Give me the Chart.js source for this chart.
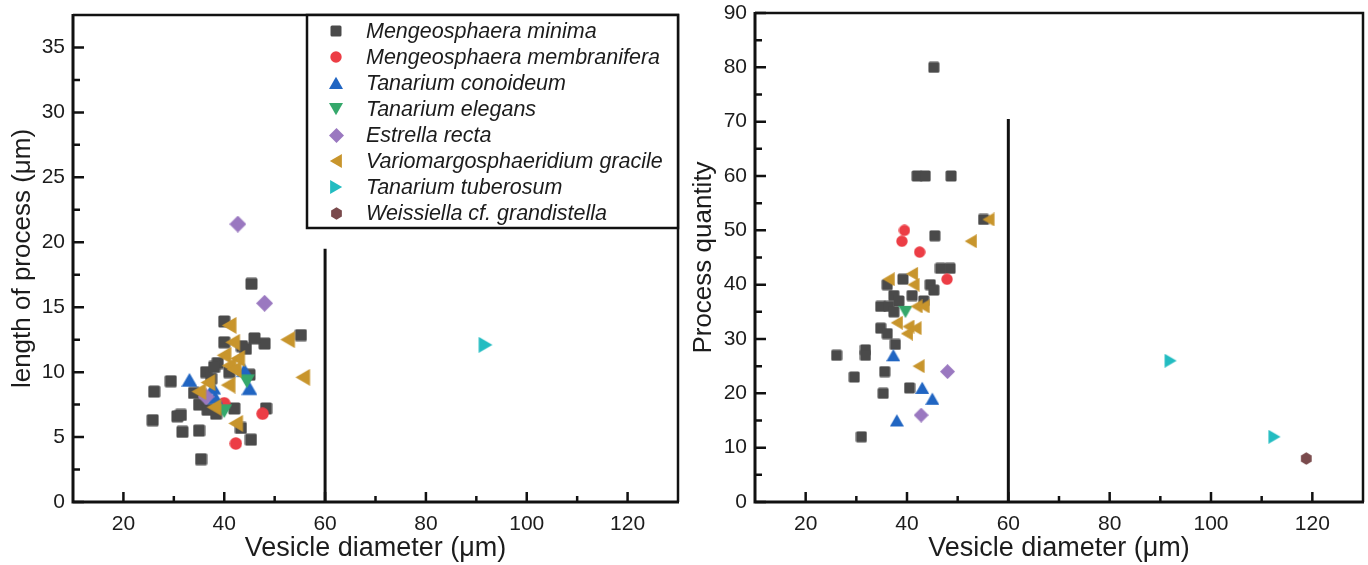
<!DOCTYPE html>
<html>
<head>
<meta charset="utf-8">
<script src="https://cdn.jsdelivr.net/npm/chart.js@4.4.0/dist/chart.umd.min.js"></script>
<style>
  html, body { margin: 0; padding: 0; background: #fff; }
  #wrap { position: relative; width: 1368px; height: 565px; }
  canvas { position: absolute; top: 0; }
</style>
</head>
<body>
<div id="wrap">
  <canvas id="lenChart" width="684" height="565" style="left:0"></canvas>
  <canvas id="qtyChart" width="684" height="565" style="left:684px"></canvas>
</div>
<script>
// species in legend order
const seriesNames = [
  'Mengeosphaera minima',
  'Mengeosphaera membranifera',
  'Tanarium conoideum',
  'Tanarium elegans',
  'Estrella recta',
  'Variomargosphaeridium gracile',
  'Tanarium tuberosum',
  'Weissiella cf. grandistella'
];

// left panel: [vesicle diameter, length of process]
const minimaLen = [[45.4,16.8],[55.2,12.85],[48.0,12.2],[46.0,12.6],[44.3,11.8],[40.0,13.9],[40.0,12.3],
  [26.1,8.5],[29.4,9.3],[25.8,6.3],[30.7,6.6],[31.4,6.7],[31.7,5.4],[35.0,5.5],[35.4,3.3],[45.3,4.8],
  [48.3,7.2],[42.0,7.2],[43.3,5.7],[45.0,9.8],[36.4,10.0],[38.7,10.7],[34.0,8.4],[35.0,7.5],[36.7,7.1],
  [38.4,6.8],[38.0,10.4],[43.5,12.0],[37.4,9.5],[41.0,10.0]];
const membraniferaLen = [[47.6,6.8],[42.3,4.5],[40.0,7.6]];
const conoideumLen = [[33.1,9.4],[44.0,10.15],[45.0,8.75],[37.8,8.8],[38.2,8.05]];
const elegansLen = [[44.5,9.3],[40.0,7.0]];
const rectaLen = [[42.7,21.4],[48.0,15.3],[36.4,8.1]];
const gracileLen = [[41.0,13.6],[41.7,12.3],[40.0,11.3],[42.7,11.05],[41.0,10.5],[42.0,10.2],[40.8,9.0],
  [36.8,9.2],[35.0,8.5],[38.0,7.3],[42.3,6.05],[52.6,12.5],[55.6,9.6]];
const tuberosumLen = [[91.8,12.1]];
const grandistellaLen = [];

// right panel: [vesicle diameter, process quantity]
const minimaQty = [[45.3,80],[42.0,60],[43.6,60],[48.7,60],[55.1,52],[45.5,49],[46.6,43],[48.5,43],
  [39.2,41],[36.1,40],[44.6,40],[45.3,39],[37.4,38],[41.0,38],[43.3,37],[34.8,36],[36.4,36],[37.4,35],
  [38.4,37],[34.8,32],[36.1,31],[37.7,29],[31.8,28],[31.8,27],[26.1,27],[35.6,24],[29.6,23],[40.5,21],
  [35.3,20],[31.0,12]];
const membraniferaQty = [[39.5,50],[39.0,48],[42.5,46],[47.9,41]];
const conoideumQty = [[37.3,27],[43.0,21],[45.0,19],[38.0,15]];
const elegansQty = [[39.7,35]];
const rectaQty = [[48.0,24],[42.8,16]];
const gracileQty = [[56.1,52],[52.6,48],[36.4,41],[41.0,42],[41.3,40],[41.9,36],[43.3,36],[38.0,33],
  [40.3,32.3],[41.7,32],[40.0,31],[42.3,25]];
const tuberosumQty = [[92.0,26],[112.5,12]];
const grandistellaQty = [[118.8,8]];

// axes
const xTicks = [20, 40, 60, 80, 100, 120];
const lenTicks = [0, 5, 10, 15, 20, 25, 30, 35];
const qtyTicks = [0, 10, 20, 30, 40, 50, 60, 70, 80, 90];
const cutDiameter = 60;
const lenCutTop = 19.5;
const qtyCutTop = 70.5;

const FONT = "'Liberation Sans', Arial, Helvetica, sans-serif";
const INK = '#1c1c1c';
const colors = ['#4a4a4a', '#ec3d45', '#2065c2', '#35a86b', '#9a78c0', '#c8952c', '#22bcc1', '#7a4a4c'];
const shapes = ['square', 'circle', 'up', 'down', 'diamond', 'left', 'right', 'hexagon'];
const lenSize = { square: 13, circle: 13, up: 16, down: 16, diamond: 17, left: 17, right: 16, hexagon: 13 };
const qtySize = { square: 12, circle: 12, up: 14, down: 14, diamond: 15, left: 14, right: 14, hexagon: 13 };

function makeSprite(shape, color, size) {
  const c = document.createElement('canvas');
  c.width = size; c.height = size;
  const g = c.getContext('2d');
  const s = size, h = s / 2;
  g.fillStyle = color;
  g.beginPath();
  if (shape === 'square') {
    g.roundRect(0.5, 0.5, s - 1, s - 1, 1.5);
  } else if (shape === 'circle') {
    g.arc(h, h, h - 0.3, 0, Math.PI * 2);
  } else if (shape === 'up') {
    g.moveTo(h, 0.06 * s); g.lineTo(s, 0.92 * s); g.lineTo(0, 0.92 * s);
  } else if (shape === 'down') {
    g.moveTo(h, 0.94 * s); g.lineTo(s, 0.08 * s); g.lineTo(0, 0.08 * s);
  } else if (shape === 'left') {
    g.moveTo(0.06 * s, h); g.lineTo(0.92 * s, 0); g.lineTo(0.92 * s, s);
  } else if (shape === 'right') {
    g.moveTo(0.94 * s, h); g.lineTo(0.08 * s, 0); g.lineTo(0.08 * s, s);
  } else if (shape === 'diamond') {
    g.moveTo(h, 0); g.lineTo(s, h); g.lineTo(h, s); g.lineTo(0, h);
  } else if (shape === 'hexagon') {
    for (let k = 0; k < 6; k++) {
      const a = -Math.PI / 2 + k * Math.PI / 3;
      const px = h + (h - 0.3) * Math.cos(a), py = h + (h - 0.3) * Math.sin(a);
      if (k === 0) g.moveTo(px, py); else g.lineTo(px, py);
    }
  }
  g.closePath();
  g.fill();
  return c;
}

const legendSprites = shapes.map((sh, i) => makeSprite(sh, colors[i], qtySize[sh]));

function minorValues(ticks, min, max) {
  const out = [];
  const step = ticks[1] - ticks[0];
  for (let v = ticks[0] - step / 2; v < max; v += step) {
    if (v > min && v < max) out.push(v);
  }
  return out;
}

function framePlugin(cutTop) {
  return {
    id: 'frame',
    afterDatasetsDraw(chart) {
      const { ctx, chartArea: a, scales: { x, y } } = chart;
      ctx.save();
      ctx.strokeStyle = '#111';
      ctx.lineCap = 'butt';
      ctx.lineWidth = 2.5;
      ctx.beginPath();
      x.ticks.forEach(t => { const px = x.getPixelForValue(t.value); ctx.moveTo(px, a.bottom); ctx.lineTo(px, a.bottom - 10); });
      minorValues(x.ticks.map(t => t.value), x.min, x.max).forEach(v => { const px = x.getPixelForValue(v); ctx.moveTo(px, a.bottom); ctx.lineTo(px, a.bottom - 6); });
      y.ticks.forEach(t => { const py = y.getPixelForValue(t.value); ctx.moveTo(a.left, py); ctx.lineTo(a.left + 11, py); });
      minorValues(y.ticks.map(t => t.value), y.min, y.max).forEach(v => { const py = y.getPixelForValue(v); ctx.moveTo(a.left, py); ctx.lineTo(a.left + 7, py); });
      ctx.stroke();
      // frame
      ctx.lineWidth = 2.5;
      ctx.beginPath();
      ctx.moveTo(a.left, a.top); ctx.lineTo(a.right, a.top); ctx.lineTo(a.right, a.bottom);
      ctx.stroke();
      ctx.lineWidth = 3;
      ctx.beginPath();
      ctx.moveTo(a.left, a.top - 1); ctx.lineTo(a.left, a.bottom); ctx.lineTo(a.right + 1, a.bottom);
      ctx.stroke();
      // divider at 60 µm
      const cx = x.getPixelForValue(cutDiameter);
      ctx.lineWidth = 3;
      ctx.beginPath();
      ctx.moveTo(cx, a.bottom); ctx.lineTo(cx, y.getPixelForValue(cutTop));
      ctx.stroke();
      ctx.restore();
    }
  };
}

const legendBox = {
  id: 'legendBox',
  afterDraw(chart) {
    const { ctx, chartArea: a } = chart;
    const x0 = a.right - 371, y0 = a.top, y1 = 228;
    ctx.save();
    ctx.fillStyle = '#fff';
    ctx.fillRect(x0, y0, a.right - x0, y1 - y0);
    ctx.strokeStyle = '#111';
    ctx.lineWidth = 2.5;
    ctx.strokeRect(x0, y0, a.right - x0, y1 - y0);
    ctx.font = 'italic 21.5px ' + FONT;
    ctx.textBaseline = 'middle';
    ctx.fillStyle = INK;
    chart.data.datasets.forEach((ds, i) => {
      const yy = y0 + 15.7 + i * 26.1;
      const img = legendSprites[i];
      ctx.drawImage(img, Math.round(x0 + 29 - img.width / 2), Math.round(yy - img.height / 2));
      ctx.fillText(ds.label, x0 + 59, yy + 1);
    });
    ctx.restore();
  }
};

function buildDatasets(groups, sizes) {
  return groups.map((pts, i) => ({
    label: seriesNames[i],
    data: pts.map(p => ({ x: p[0], y: p[1] })),
    pointStyle: makeSprite(shapes[i], colors[i], sizes[shapes[i]]),
    showLine: false,
    order: groups.length - i
  }));
}

function makeChart(id, groups, sizes, yTicks, yMax, yTitle, cutTop, opts) {
  const plugins = [framePlugin(cutTop)];
  if (opts.legend) plugins.push(legendBox);
  return new Chart(document.getElementById(id), {
    type: 'scatter',
    data: { datasets: buildDatasets(groups, sizes) },
    options: {
      responsive: false,
      animation: false,
      devicePixelRatio: 1,
      events: [],
      layout: { padding: { top: opts.top, right: opts.right, left: 0, bottom: 0 } },
      plugins: { legend: { display: false }, tooltip: { enabled: false } },
      scales: {
        x: {
          type: 'linear', min: 10, max: 130,
          afterBuildTicks: s => { s.ticks = xTicks.map(v => ({ value: v })); },
          afterFit: s => { s.height = 63; s.paddingLeft = 0; s.paddingRight = 0; },
          grid: { display: false, drawTicks: false },
          border: { display: false },
          ticks: { font: { size: 21, family: FONT }, color: INK, padding: 10, maxRotation: 0, autoSkip: false },
          title: { display: true, text: 'Vesicle diameter (μm)', font: { size: 27, family: FONT }, color: INK, padding: { top: 0, bottom: 0 } }
        },
        y: {
          type: 'linear', min: 0, max: yMax,
          afterBuildTicks: s => { s.ticks = yTicks.map(v => ({ value: v })); },
          afterFit: s => { s.width = opts.yWidth; s.paddingTop = 0; s.paddingBottom = 0; },
          grid: { display: false, drawTicks: false },
          border: { display: false },
          ticks: { font: { size: 21, family: FONT }, color: INK, padding: 8, autoSkip: false },
          title: { display: true, text: yTitle, font: { size: 26, family: FONT }, color: INK, padding: { top: opts.titlePad, bottom: 0 } }
        }
      }
    },
    plugins
  });
}

makeChart('lenChart',
  [minimaLen, membraniferaLen, conoideumLen, elegansLen, rectaLen, gracileLen, tuberosumLen, grandistellaLen],
  lenSize, lenTicks, 37.5, 'length of process (μm)', lenCutTop,
  { top: 15, right: 6, yWidth: 73, titlePad: 7, legend: true });

makeChart('qtyChart',
  [minimaQty, membraniferaQty, conoideumQty, elegansQty, rectaQty, gracileQty, tuberosumQty, grandistellaQty],
  qtySize, qtyTicks, 90, 'Process quantity', qtyCutTop,
  { top: 13, right: 3, yWidth: 71, titlePad: 4, legend: false });
</script>
</body>
</html>
